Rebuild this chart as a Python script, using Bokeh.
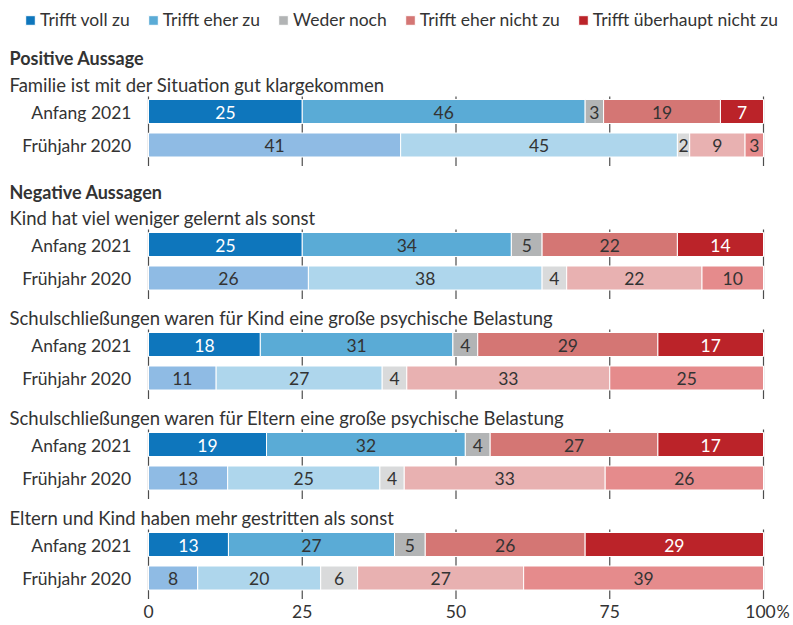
from bokeh.plotting import figure
from bokeh.models import Range1d, ColumnDataSource, Legend, LegendItem
from bokeh.core.properties import value
from bokeh.embed import file_html
from bokeh.resources import INLINE

# ---------------- data ----------------
categories = ["Trifft voll zu", "Trifft eher zu", "Weder noch",
              "Trifft eher nicht zu", "Trifft überhaupt nicht zu"]
periods = ["Anfang 2021", "Frühjahr 2020"]
statements = [
    "Familie ist mit der Situation gut klargekommen",
    "Kind hat viel weniger gelernt als sonst",
    "Schulschließungen waren für Kind eine große psychische Belastung",
    "Schulschließungen waren für Eltern eine große psychische Belastung",
    "Eltern und Kind haben mehr gestritten als sonst",
]
section_titles = ["Positive Aussage", "Negative Aussagen"]
anfang_2021 = [
    [25, 46, 3, 19, 7],
    [25, 34, 5, 22, 14],
    [18, 31, 4, 29, 17],
    [19, 32, 4, 27, 17],
    [13, 27, 5, 26, 29],
]
fruehjahr_2020 = [
    [41, 45, 2, 9, 3],
    [26, 38, 4, 22, 10],
    [11, 27, 4, 33, 25],
    [13, 25, 4, 33, 26],
    [8, 20, 6, 27, 39],
]
tick_values = [0, 25, 50, 75, 100]
tick_labels = ["0", "25", "50", "75", "100"]

# ---------------- styling / layout ----------------
FONT = "Lato"
TXT = "#333333"
colors_2021 = ["#0e76bc", "#5aabd6", "#b2b4b5", "#d47674", "#bb2329"]
colors_2020 = ["#8fbbe4", "#aed6ec", "#d9dadb", "#e8b1b1", "#e58b8c"]
label_colors_2021 = ["white", TXT, TXT, TXT, "white"]
label_colors_2020 = [TXT] * 5

W, H = 793, 625
PX0, PX100 = 148, 763           # canvas x of 0 % and 100 %
ppu = (PX100 - PX0) / 100.0
x_start = (0 - PX0) / ppu
x_end = (W - PX0) / ppu
row_a = [111, 244, 344, 444, 544]   # canvas y of "Anfang 2021" bars
row_gap = 33.5
bar_h = 24
FS = "17.5px"
BL = -6   # correction: rendered alphabetic baseline sits ~6px below y

p = figure(width=W, height=H, output_backend="svg", toolbar_location=None,
           x_range=Range1d(x_start, x_end), y_range=Range1d(H, 0),
           min_border=0, outline_line_color=None)
p.axis.visible = False
p.grid.visible = False
p.background_fill_color = "white"
p.border_fill_color = "white"

# group grid segments
for ya in row_a:
    p.segment(x0=tick_values, x1=tick_values,
              y0=[ya - bar_h / 2 - 3] * len(tick_values),
              y1=[ya + row_gap + bar_h / 2 + 9] * len(tick_values),
              line_color="#4d4d4d", line_width=1.2)

legend_items = []
for pi, (period, data, cols, lcols) in enumerate(
        [(periods[0], anfang_2021, colors_2021, label_colors_2021),
         (periods[1], fruehjahr_2020, colors_2020, label_colors_2020)]):
    ys = [ya + pi * row_gap for ya in row_a]
    lefts = [[0] * 5 for _ in data]
    rights = [[0] * 5 for _ in data]
    for gi, vals in enumerate(data):
        tot = float(sum(vals))
        c = 0.0
        for ci, v in enumerate(vals):
            lefts[gi][ci] = c / tot * 100
            c += v
            rights[gi][ci] = c / tot * 100
    for ci, cat in enumerate(categories):
        src = ColumnDataSource(dict(
            y=ys,
            left=[lefts[g][ci] for g in range(len(data))],
            right=[rights[g][ci] for g in range(len(data))],
            mid=[(lefts[g][ci] + rights[g][ci]) / 2 for g in range(len(data))],
            ty=[y + 6.5 + BL for y in ys],
            lab=[str(data[g][ci]) for g in range(len(data))],
        ))
        r = p.hbar(y="y", left="left", right="right", height=bar_h, source=src,
                   fill_color=cols[ci], line_color="white", line_width=1)
        p.text(x="mid", y="ty", text="lab", source=src,
               text_align="center", text_baseline="alphabetic",
               text_font=value(FONT), text_font_size=FS,
               text_color=lcols[ci])
        if pi == 0:
            legend_items.append(LegendItem(label=cat, renderers=[r]))

    # period labels
    p.text(x=[(131 - PX0) / ppu] * len(ys), y=[y + 6.5 + BL for y in ys],
           text=[period] * len(ys), text_align="right",
           text_baseline="alphabetic", text_font=value(FONT),
           text_font_size=FS, text_color=TXT)

# statement titles
xl = (9 - PX0) / ppu
p.text(x=[xl] * len(statements), y=[ya - 21 + BL for ya in row_a],
       text=statements, text_align="left", text_baseline="alphabetic",
       text_font=value(FONT), text_font_size="18.5px", text_color=TXT)
# section titles
p.text(x=[xl, xl], y=[63 + BL, 197 + BL], text=section_titles,
       text_align="left", text_baseline="alphabetic", text_font=value(FONT),
       text_font_size="18px", text_font_style="bold", text_color=TXT)

# x tick labels
TICK_Y = 617 + BL
tick_src = ColumnDataSource(dict(
    x=tick_values, y=[TICK_Y] * len(tick_values), text=tick_labels,
    xoff=[0, 0, 0, 0, -3]))
p.text(x="x", y="y", text="text", x_offset="xoff", source=tick_src,
       text_align="center", text_baseline="alphabetic", text_font=value(FONT),
       text_font_size=FS, text_color=TXT)
p.text(x=[tick_values[-1]], y=[TICK_Y], text=["%"], x_offset=13,
       text_align="left", text_baseline="alphabetic", text_font=value(FONT),
       text_font_size="16.5px", text_color=TXT)

legend = Legend(items=legend_items, orientation="horizontal",
                location=(24, H - 30), padding=0, margin=0, spacing=17,
                glyph_width=12, glyph_height=12, label_standoff=4,
                label_height=20, label_text_font=FONT,
                label_text_font_size=FS, label_text_color=TXT,
                background_fill_alpha=0, border_line_color=None)
p.add_layout(legend)

open("out.html", "w").write(file_html(p, INLINE))
